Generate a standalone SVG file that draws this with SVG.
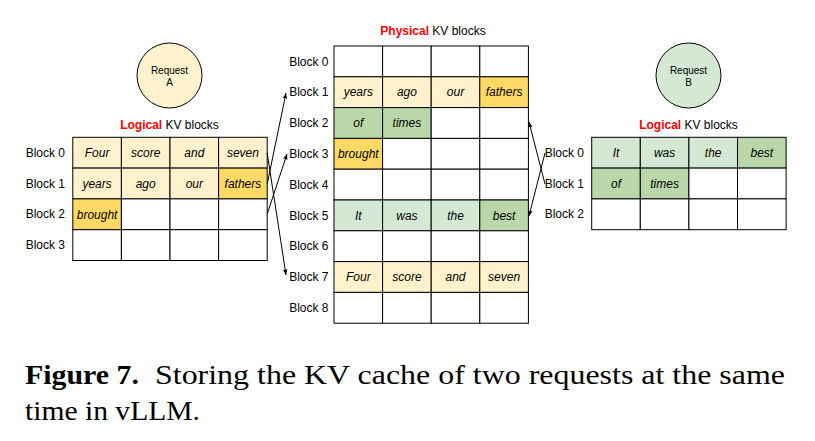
<svg xmlns="http://www.w3.org/2000/svg" width="815" height="441" viewBox="0 0 815 441">
<style>
.cell{stroke:#000;stroke-width:1}
.w{fill:#ffffff}
.ly{fill:#fff2cc}
.dy{fill:#ffd966}
.lg{fill:#d5e8d4}
.dg{fill:#b9d7a8}
.t{font-family:"Liberation Sans",Arial,sans-serif;font-size:12px;font-style:italic;fill:#000;text-anchor:middle}
.lbl{font-family:"Liberation Sans",Arial,sans-serif;font-size:12px;fill:#000;text-anchor:end}
.ttl{font-family:"Liberation Sans",Arial,sans-serif;font-size:12px;fill:#000;text-anchor:middle}
.red{fill:#ff0000;font-weight:bold}
.req{font-family:"Liberation Sans",Arial,sans-serif;font-size:10px;fill:#000;text-anchor:middle}
.cap{font-family:"Liberation Serif","Times New Roman",serif;font-size:27px;fill:#000}
.conn{stroke:#000;stroke-width:1;fill:none;marker-end:url(#ah)}
</style>
<defs>
<marker id="ah" viewBox="0 0 10 10" refX="10" refY="5" markerWidth="6" markerHeight="6" markerUnits="userSpaceOnUse" orient="auto">
<path d="M0,1 L10,5 L0,9 L2.5,5 Z" fill="#000"/>
</marker>
</defs>
<rect width="815" height="441" fill="#ffffff"/>

<g id="requestA">
<circle cx="169.5" cy="75.5" r="32.5" fill="#fff2cc" stroke="#000" stroke-width="1"/>
<text class="req" x="169.5" y="74">Request</text>
<text class="req" x="169.5" y="86">A</text>
</g>
<g id="requestB">
<circle cx="688.5" cy="75.5" r="32.5" fill="#d5e8d4" stroke="#000" stroke-width="1"/>
<text class="req" x="688.5" y="74">Request</text>
<text class="req" x="688.5" y="86">B</text>
</g>

<g id="logicalA">
<text class="ttl" x="169.5" y="129"><tspan class="red">Logical</tspan> KV blocks</text>
<text class="lbl" x="65" y="157">Block 0</text>
<text class="lbl" x="65" y="188">Block 1</text>
<text class="lbl" x="65" y="218">Block 2</text>
<text class="lbl" x="65" y="249">Block 3</text>
<rect class="cell ly" x="72.8" y="137.3" width="48.6" height="30.8"/>
<rect class="cell ly" x="121.4" y="137.3" width="48.6" height="30.8"/>
<rect class="cell ly" x="170" y="137.3" width="48.6" height="30.8"/>
<rect class="cell ly" x="218.6" y="137.3" width="48.6" height="30.8"/>
<rect class="cell ly" x="72.8" y="168.1" width="48.6" height="30.8"/>
<rect class="cell ly" x="121.4" y="168.1" width="48.6" height="30.8"/>
<rect class="cell ly" x="170" y="168.1" width="48.6" height="30.8"/>
<rect class="cell dy" x="218.6" y="168.1" width="48.6" height="30.8"/>
<rect class="cell dy" x="72.8" y="198.9" width="48.6" height="30.8"/>
<rect class="cell w" x="121.4" y="198.9" width="48.6" height="30.8"/>
<rect class="cell w" x="170" y="198.9" width="48.6" height="30.8"/>
<rect class="cell w" x="218.6" y="198.9" width="48.6" height="30.8"/>
<rect class="cell w" x="72.8" y="229.7" width="48.6" height="30.8"/>
<rect class="cell w" x="121.4" y="229.7" width="48.6" height="30.8"/>
<rect class="cell w" x="170" y="229.7" width="48.6" height="30.8"/>
<rect class="cell w" x="218.6" y="229.7" width="48.6" height="30.8"/>
<text class="t" x="97.1" y="157">Four</text>
<text class="t" x="145.7" y="157">score</text>
<text class="t" x="194.3" y="157">and</text>
<text class="t" x="242.9" y="157">seven</text>
<text class="t" x="97.1" y="188">years</text>
<text class="t" x="145.7" y="188">ago</text>
<text class="t" x="194.3" y="188">our</text>
<text class="t" x="242.9" y="188">fathers</text>
<text class="t" x="97.1" y="218.5">brought</text>
</g>

<g id="physical">
<text class="ttl" x="433" y="35"><tspan class="red">Physical</tspan> KV blocks</text>
<text class="lbl" x="328.5" y="65.5">Block 0</text>
<text class="lbl" x="328.5" y="96.3">Block 1</text>
<text class="lbl" x="328.5" y="127.1">Block 2</text>
<text class="lbl" x="328.5" y="157.9">Block 3</text>
<text class="lbl" x="328.5" y="188.7">Block 4</text>
<text class="lbl" x="328.5" y="219.5">Block 5</text>
<text class="lbl" x="328.5" y="250.3">Block 6</text>
<text class="lbl" x="328.5" y="281.1">Block 7</text>
<text class="lbl" x="328.5" y="311.9">Block 8</text>
<rect class="cell w" x="334" y="46" width="48.6" height="30.8"/>
<rect class="cell w" x="382.6" y="46" width="48.6" height="30.8"/>
<rect class="cell w" x="431.2" y="46" width="48.6" height="30.8"/>
<rect class="cell w" x="479.8" y="46" width="48.6" height="30.8"/>
<rect class="cell ly" x="334" y="76.8" width="48.6" height="30.8"/>
<rect class="cell ly" x="382.6" y="76.8" width="48.6" height="30.8"/>
<rect class="cell ly" x="431.2" y="76.8" width="48.6" height="30.8"/>
<rect class="cell dy" x="479.8" y="76.8" width="48.6" height="30.8"/>
<rect class="cell dg" x="334" y="107.6" width="48.6" height="30.8"/>
<rect class="cell dg" x="382.6" y="107.6" width="48.6" height="30.8"/>
<rect class="cell w" x="431.2" y="107.6" width="48.6" height="30.8"/>
<rect class="cell w" x="479.8" y="107.6" width="48.6" height="30.8"/>
<rect class="cell dy" x="334" y="138.4" width="48.6" height="30.8"/>
<rect class="cell w" x="382.6" y="138.4" width="48.6" height="30.8"/>
<rect class="cell w" x="431.2" y="138.4" width="48.6" height="30.8"/>
<rect class="cell w" x="479.8" y="138.4" width="48.6" height="30.8"/>
<rect class="cell w" x="334" y="169.2" width="48.6" height="30.8"/>
<rect class="cell w" x="382.6" y="169.2" width="48.6" height="30.8"/>
<rect class="cell w" x="431.2" y="169.2" width="48.6" height="30.8"/>
<rect class="cell w" x="479.8" y="169.2" width="48.6" height="30.8"/>
<rect class="cell lg" x="334" y="200" width="48.6" height="30.8"/>
<rect class="cell lg" x="382.6" y="200" width="48.6" height="30.8"/>
<rect class="cell lg" x="431.2" y="200" width="48.6" height="30.8"/>
<rect class="cell dg" x="479.8" y="200" width="48.6" height="30.8"/>
<rect class="cell w" x="334" y="230.8" width="48.6" height="30.8"/>
<rect class="cell w" x="382.6" y="230.8" width="48.6" height="30.8"/>
<rect class="cell w" x="431.2" y="230.8" width="48.6" height="30.8"/>
<rect class="cell w" x="479.8" y="230.8" width="48.6" height="30.8"/>
<rect class="cell ly" x="334" y="261.6" width="48.6" height="30.8"/>
<rect class="cell ly" x="382.6" y="261.6" width="48.6" height="30.8"/>
<rect class="cell ly" x="431.2" y="261.6" width="48.6" height="30.8"/>
<rect class="cell ly" x="479.8" y="261.6" width="48.6" height="30.8"/>
<rect class="cell w" x="334" y="292.4" width="48.6" height="30.8"/>
<rect class="cell w" x="382.6" y="292.4" width="48.6" height="30.8"/>
<rect class="cell w" x="431.2" y="292.4" width="48.6" height="30.8"/>
<rect class="cell w" x="479.8" y="292.4" width="48.6" height="30.8"/>
<text class="t" x="358.3" y="96.3">years</text>
<text class="t" x="406.9" y="96.3">ago</text>
<text class="t" x="455.5" y="96.3">our</text>
<text class="t" x="504.1" y="96.3">fathers</text>
<text class="t" x="358.3" y="127.1">of</text>
<text class="t" x="406.9" y="127.1">times</text>
<text class="t" x="358.3" y="157.9">brought</text>
<text class="t" x="358.3" y="219.5">It</text>
<text class="t" x="406.9" y="219.5">was</text>
<text class="t" x="455.5" y="219.5">the</text>
<text class="t" x="504.1" y="219.5">best</text>
<text class="t" x="358.3" y="281.1">Four</text>
<text class="t" x="406.9" y="281.1">score</text>
<text class="t" x="455.5" y="281.1">and</text>
<text class="t" x="504.1" y="281.1">seven</text>
</g>

<g id="logicalB">
<text class="ttl" x="688.5" y="129"><tspan class="red">Logical</tspan> KV blocks</text>
<text class="lbl" x="584" y="157">Block 0</text>
<text class="lbl" x="584" y="188">Block 1</text>
<text class="lbl" x="584" y="218">Block 2</text>
<rect class="cell lg" x="591.7" y="137.3" width="48.6" height="30.8"/>
<rect class="cell lg" x="640.3" y="137.3" width="48.6" height="30.8"/>
<rect class="cell lg" x="688.9" y="137.3" width="48.6" height="30.8"/>
<rect class="cell dg" x="737.5" y="137.3" width="48.6" height="30.8"/>
<rect class="cell dg" x="591.7" y="168.1" width="48.6" height="30.8"/>
<rect class="cell dg" x="640.3" y="168.1" width="48.6" height="30.8"/>
<rect class="cell w" x="688.9" y="168.1" width="48.6" height="30.8"/>
<rect class="cell w" x="737.5" y="168.1" width="48.6" height="30.8"/>
<rect class="cell w" x="591.7" y="198.9" width="48.6" height="30.8"/>
<rect class="cell w" x="640.3" y="198.9" width="48.6" height="30.8"/>
<rect class="cell w" x="688.9" y="198.9" width="48.6" height="30.8"/>
<rect class="cell w" x="737.5" y="198.9" width="48.6" height="30.8"/>
<text class="t" x="616" y="157">It</text>
<text class="t" x="664.6" y="157">was</text>
<text class="t" x="713.2" y="157">the</text>
<text class="t" x="761.8" y="157">best</text>
<text class="t" x="616" y="188">of</text>
<text class="t" x="664.6" y="188">times</text>
</g>

<g id="connectors">
<line class="conn" x1="267.2" y1="153" x2="286" y2="275"/>
<line class="conn" x1="267.2" y1="184" x2="286" y2="93"/>
<line class="conn" x1="267.2" y1="214" x2="287" y2="154"/>
<line class="conn" x1="545" y1="153" x2="529" y2="216"/>
<line class="conn" x1="545" y1="184" x2="529" y2="122"/>
</g>

<g id="caption">
<text class="cap" x="25" y="384" font-weight="bold" textLength="114" lengthAdjust="spacingAndGlyphs">Figure 7.</text>
<text class="cap" x="155" y="384" textLength="630" lengthAdjust="spacingAndGlyphs">Storing the KV cache of two requests at the same</text>
<text class="cap" x="25" y="420" textLength="175" lengthAdjust="spacingAndGlyphs">time in vLLM.</text>
</g>
</svg>
